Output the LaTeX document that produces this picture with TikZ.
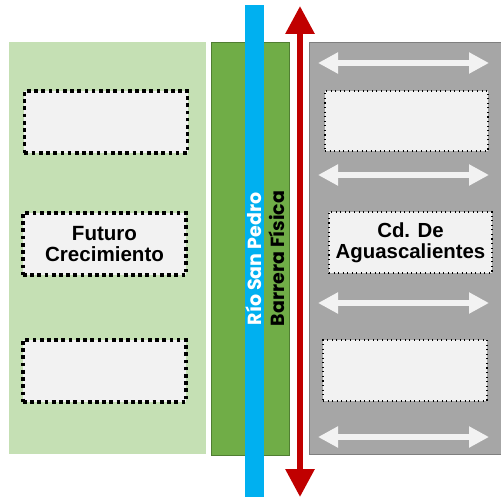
\documentclass[tikz,border=0pt]{standalone}
\usepackage{fontspec}
\setmainfont{Liberation Sans}
\newfontfamily\gothic{Poppins}
\usetikzlibrary{arrows.meta}
\definecolor{verdeclaro}{HTML}{C5E0B4}
\definecolor{verde}{HTML}{70AD47}
\definecolor{verdeborde}{HTML}{507E32}
\definecolor{azulrio}{HTML}{00B0F0}
\definecolor{rojo}{HTML}{C00000}
\definecolor{gris}{HTML}{A6A6A6}
\definecolor{grisborde}{HTML}{7F7F7F}
\definecolor{blanco}{HTML}{F2F2F2}
\tikzset{
  cajagruesa/.style={draw=black,fill=blanco,line width=2.1pt,dash pattern=on 2.1pt off 2pt,
    minimum width=3.26cm,minimum height=1.24cm,inner sep=0pt,align=center,
    font=\fontsize{11.7}{12.2}\selectfont\bfseries},
  cajafina/.style={draw=black,fill=blanco,line width=0.6pt,dotted,
    minimum width=3.26cm,minimum height=1.2cm,inner sep=0pt,align=center,
    font=\fontsize{11.6}{12.2}\selectfont\bfseries},
  vertical/.style={rotate=90,inner sep=0pt,font=\gothic\bfseries\fontsize{10.8}{11}\selectfont},
  flechablanca/.style={draw=blanco,line width=0.12cm,
    {Triangle[length=0.4cm,width=0.4cm]}-{Triangle[length=0.4cm,width=0.4cm]}},
}

\begin{document}
\begin{tikzpicture}[x=0.2mm,y=-0.2mm]
%\draw[help lines,step=50] (0,0) grid (500,502);
\useasboundingbox (0,0) rectangle (500,502);

% zonas
\fill[verdeclaro] (9,42) rectangle (206,454);
\draw[verdeborde,fill=verde] (211,42) rectangle (289,455);
\fill[azulrio] (245,5) rectangle (264,497);
\draw[grisborde,fill=gris] (309,42) rectangle (502,454);

% barrera
\coordinate (norte) at (300,6);
\coordinate (sur) at (300,497);
\draw[rojo,line width=0.12cm,{Triangle[length=0.56cm,width=0.56cm]}-{Triangle[length=0.56cm,width=0.56cm]}] (norte)--(sur);

% flujos de la ciudad
\foreach \y [count=\i] in {63,175,303,437}{
  \coordinate (oeste\i) at (318,\y);
  \coordinate (este\i) at (489,\y);
  \draw[flechablanca] (oeste\i)--(este\i);
}

% lado poniente
\node[cajagruesa] (futuro1) at (106,122) {};
\node[cajagruesa] (futuro) at (104.5,244) {Futuro\\Crecimiento};
\node[cajagruesa] (futuro3) at (104.5,371) {};

% lado oriente
\node[cajafina] (ciudad1) at (406.5,121) {};
\node[cajafina,minimum height=1.22cm] (ciudad) at (410.5,242.5) {Cd. De\\Aguascalientes};
\node[cajafina,minimum width=3.28cm,minimum height=1.22cm] (ciudad3) at (405,370.5) {};

% textos verticales
\node[vertical,text=white] (rio) at (254,259) {Río San Pedro};
\node[vertical,text=black] (barrera) at (277,258.5) {Barrera Física};
\end{tikzpicture}
\end{document}
